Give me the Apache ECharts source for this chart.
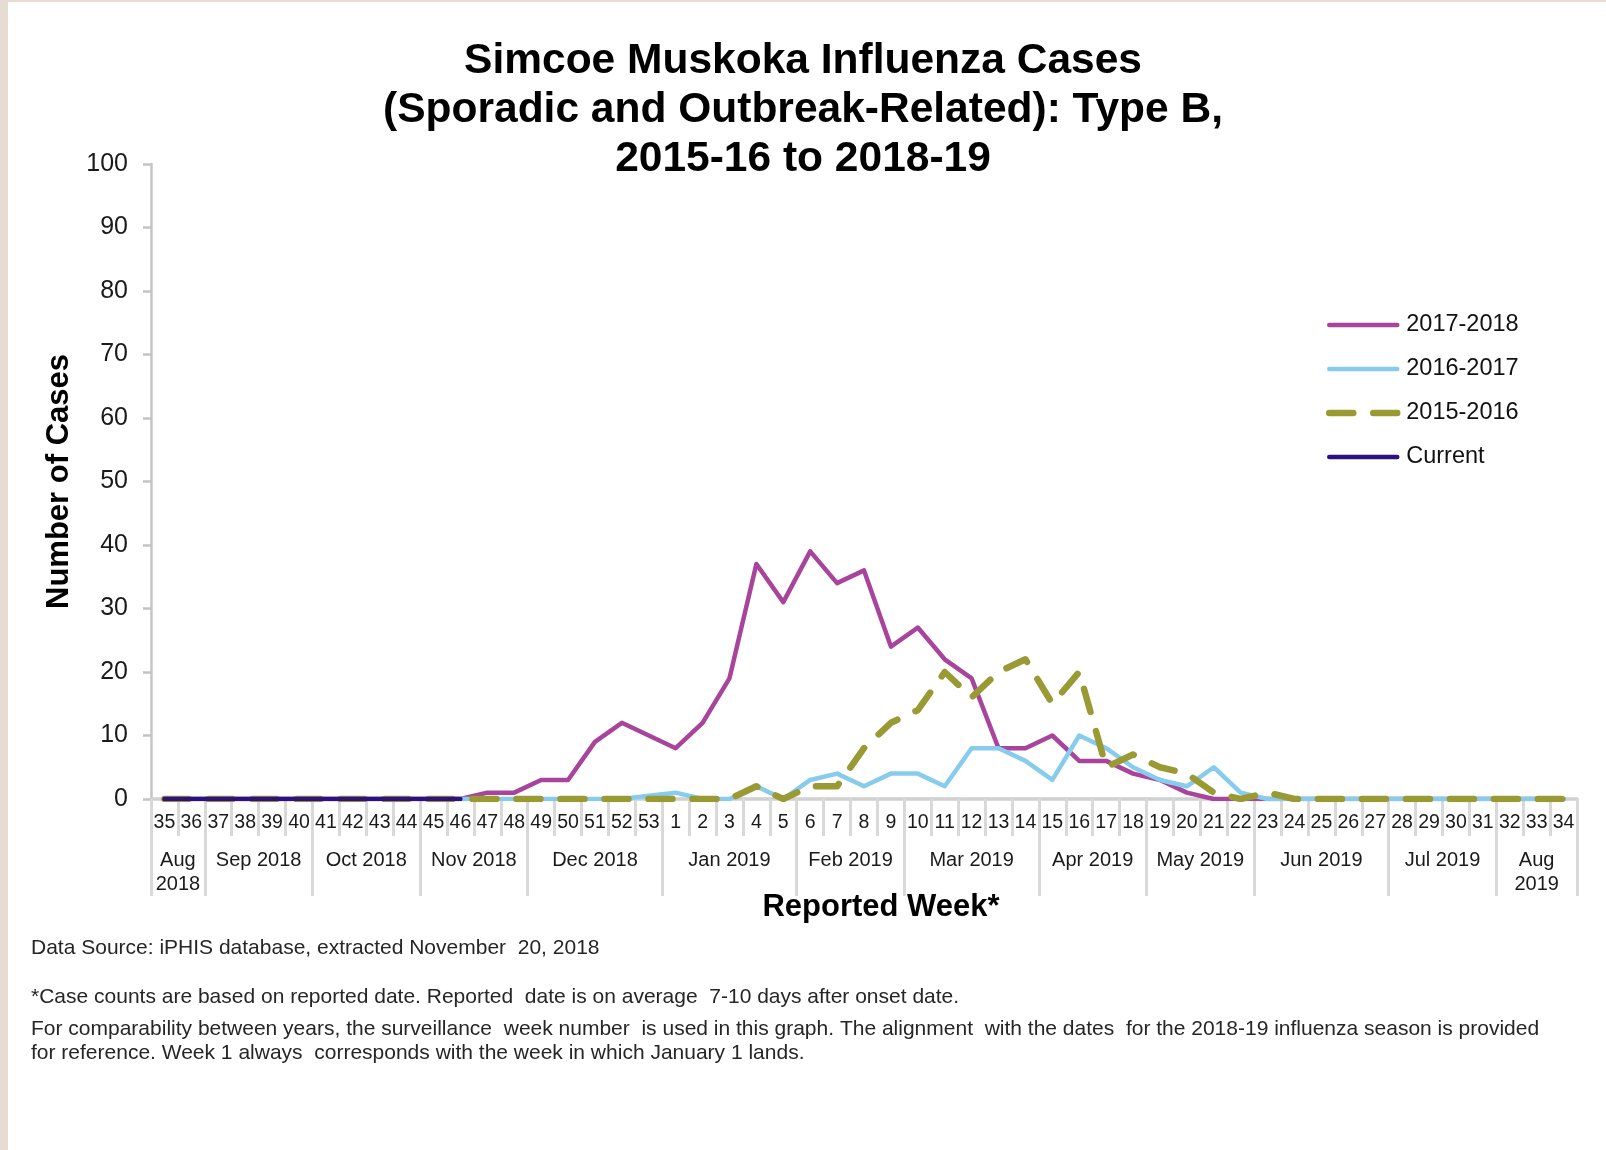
<!DOCTYPE html>
<html>
<head>
<meta charset="utf-8">
<script src="https://cdn.jsdelivr.net/npm/echarts@6/dist/echarts.min.js"></script>
<style>
  html, body { margin: 0; padding: 0; background: #ffffff; }
  #wrap { position: relative; width: 1606px; height: 1150px; background: #ffffff; overflow: hidden; }
  #stripL { position: absolute; left: 0; top: 0; width: 8px; height: 1150px; background: #e6dcd1; }
  #stripT { position: absolute; left: 0; top: 0; width: 1606px; height: 2px; background: #e6dcd1; }
  #chart { position: absolute; left: 0; top: 0; width: 1606px; height: 1150px; }
</style>
</head>
<body>
<div id="wrap">
  <div id="stripL"></div>
  <div id="stripT"></div>
  <div id="chart"></div>
</div>
<script>
// ---- Data ----
const weeks = ['35','36','37','38','39','40','41','42','43','44','45','46','47','48','49','50','51','52','53',
  '1','2','3','4','5','6','7','8','9','10','11','12','13','14','15','16','17','18','19','20','21','22','23','24',
  '25','26','27','28','29','30','31','32','33','34'];

const monthLabels = ['Aug\n2018','Sep 2018','Oct 2018','Nov 2018','Dec 2018','Jan 2019','Feb 2019',
  'Mar 2019','Apr 2019','May 2019','Jun 2019','Jul 2019','Aug\n2019'];
const monthSpans = [2,4,4,4,5,5,4,5,4,4,5,4,3];

const yTicks = [0,10,20,30,40,50,60,70,80,90,100];

const season1718 = [0,0,0,0,0,0,0,0,0,0,0,0,
  1,1,3,3,9,12,10,
  8,12,19,37,31,39,34,36,24,27,22,19,8,8,10,6,6,4,3,1,0,
  0,0,0,0,0,0,0,0,0,0,0,0,0];
const season1617 = [0,0,0,0,0,0,0,0,0,0,0,0,0,0,0,0,0,0,0.5,
  1,0,0,2,0,3,4,2,4,4,2,8,8,6,3,10,8,5,3,2,5,1,
  0,0,0,0,0,0,0,0,0,0,0,0];
const season1516 = [0,0,0,0,0,0,0,0,0,0,0,0,0,0,0,0,0,0,0,
  0,0,0,2,0,2,2,8,12,14,20,16,20,22,15,20,5,7,5,4,1,0,1,
  0,0,0,0,0,0,0,0,0,0,0];
const current = [0,0,0,0,0,0,0,0,0,0,0,0];

// ---- Helpers for the month row (half-week positions) ----
const boundaries = new Set([0]);
const centers = {};
let acc = 0;
monthSpans.forEach((s, i) => {
  centers[2 * acc + s] = monthLabels[i];
  acc += s;
  boundaries.add(2 * acc);
});
const halfCats = Array.from({ length: 2 * weeks.length + 1 }, (_, k) => String(k));

const FONT = "'Liberation Sans', Arial, sans-serif";
const AXIS_GREY = '#d0d0d0';

const COLORS = { s1718: '#a8449b', s1617: '#87ccec', s1516: '#9a9a35', cur: '#2e1080' };

const chart = echarts.init(document.getElementById('chart'), null, { renderer: 'canvas' });

const option = {
  animation: false,
  backgroundColor: 'transparent',
  textStyle: { fontFamily: FONT },
  title: {
    text: 'Simcoe Muskoka Influenza Cases\n(Sporadic and Outbreak-Related): Type B,\n2015-16 to 2018-19',
    left: 'center',
    top: 37,
    padding: [0, 14, 0, 0],
    textStyle: { fontFamily: FONT, fontSize: 42.5, fontWeight: 'bold', color: '#000', lineHeight: 49 }
  },
  legend: {
    orient: 'vertical',
    left: 1321,
    top: 308,
    itemWidth: 68,
    itemHeight: 14,
    itemGap: 20,
    itemStyle: { opacity: 0 },
    textStyle: { fontFamily: FONT, fontSize: 23.5, color: '#111', lineHeight: 24, padding: [0, 0, 0, 4] },
    data: [
      { name: '2017-2018', lineStyle: { width: 4.5, cap: 'round' } },
      { name: '2016-2017', lineStyle: { width: 4.5, cap: 'round' } },
      { name: '2015-2016', lineStyle: { width: 6.5, cap: 'round' } },
      { name: 'Current', lineStyle: { width: 4.5, cap: 'round' } }
    ]
  },
  grid: { left: 151, right: 29, top: 164, bottom: 351, containLabel: false },
  xAxis: [
    {
      type: 'category',
      data: weeks,
      boundaryGap: true,
      position: 'bottom',
      axisLine: { show: true, lineStyle: { color: AXIS_GREY, width: 3.5 } },
      axisTick: { show: true, interval: 0, length: 37, lineStyle: { color: '#d9d9d9', width: 3 } },
      axisLabel: { interval: 0, fontSize: 19.5, color: '#1a1a1a', margin: 14, fontFamily: FONT },
      name: 'Reported Week*',
      nameLocation: 'middle',
      nameGap: 93,
      nameTextStyle: { fontFamily: FONT, fontSize: 31, fontWeight: 'bold', color: '#000', padding: [0, 0, 0, 34] }
    },
    {
      type: 'category',
      data: halfCats,
      boundaryGap: false,
      position: 'bottom',
      axisLine: { show: false },
      axisTick: { show: true, interval: (i) => boundaries.has(i), length: 97, lineStyle: { color: '#d9d9d9', width: 3 } },
      axisLabel: {
        interval: (i) => centers[i] !== undefined,
        formatter: (v, i) => centers[i] || '',
        fontSize: 20, color: '#1a1a1a', margin: 49, lineHeight: 24, fontFamily: FONT
      },
      splitLine: { show: false }
    }
  ],
  yAxis: {
    type: 'value',
    min: yTicks[0],
    max: yTicks[yTicks.length - 1],
    interval: yTicks[1] - yTicks[0],
    axisLine: { show: true, lineStyle: { color: '#c4c4c4', width: 2.5 } },
    axisTick: { show: true, length: 8, lineStyle: { color: '#c4c4c4', width: 2.5 } },
    axisLabel: { fontSize: 25, color: '#1a1a1a', margin: 23, fontFamily: FONT },
    splitLine: { show: false },
    name: 'Number of Cases',
    nameLocation: 'middle',
    nameGap: 76,
    nameTextStyle: { fontFamily: FONT, fontSize: 31, fontWeight: 'bold', color: '#000' }
  },
  series: [
    {
      name: '2017-2018', type: 'line', data: season1718, symbol: 'none', smooth: false,
      lineStyle: { color: COLORS.s1718, width: 4.5, cap: 'round', join: 'round' },
      itemStyle: { color: COLORS.s1718 }
    },
    {
      name: '2016-2017', type: 'line', data: season1617, symbol: 'none', smooth: false,
      lineStyle: { color: COLORS.s1617, width: 4.5, cap: 'round', join: 'round' },
      itemStyle: { color: COLORS.s1617 }
    },
    {
      name: '2015-2016', type: 'line', data: season1516, symbol: 'none', smooth: false,
      lineStyle: { color: COLORS.s1516, width: 6.5, type: [24, 20], cap: 'round', join: 'round' },
      itemStyle: { color: COLORS.s1516 }
    },
    {
      name: 'Current', type: 'line', data: current, symbol: 'none', smooth: false,
      lineStyle: { color: COLORS.cur, width: 4.5, cap: 'round', join: 'round' },
      itemStyle: { color: COLORS.cur }
    }
  ],
  graphic: [
    { type: 'text', x: 31, y: 948, style: { text: 'Data Source: iPHIS database, extracted November  20, 2018', fontFamily: FONT, fontSize: 21, fill: '#262626', verticalAlign: 'middle' } },
    { type: 'text', x: 31, y: 997, style: { text: '*Case counts are based on reported date. Reported  date is on average  7-10 days after onset date.', fontFamily: FONT, fontSize: 21, fill: '#262626', verticalAlign: 'middle' } },
    { type: 'text', x: 31, y: 1029, style: { text: 'For comparability between years, the surveillance  week number  is used in this graph. The alignment  with the dates  for the 2018-19 influenza season is provided', fontFamily: FONT, fontSize: 21, fill: '#262626', verticalAlign: 'middle' } },
    { type: 'text', x: 31, y: 1053, style: { text: 'for reference. Week 1 always  corresponds with the week in which January 1 lands.', fontFamily: FONT, fontSize: 21, fill: '#262626', verticalAlign: 'middle' } }
  ]
};

chart.setOption(option);
</script>
</body>
</html>
